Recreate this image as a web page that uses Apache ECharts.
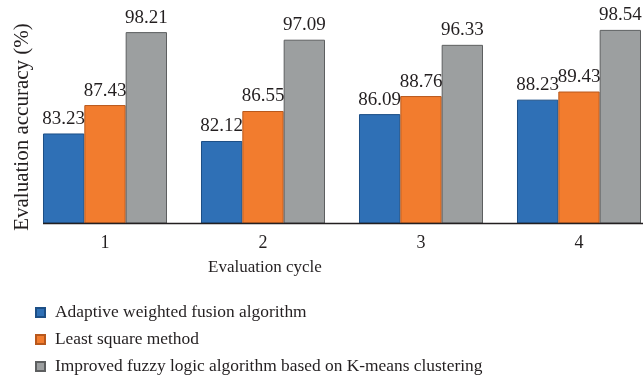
<!DOCTYPE html>
<html>
<head>
<meta charset="utf-8">
<script src="https://cdn.jsdelivr.net/npm/echarts@6/dist/echarts.min.js"></script>
<style>
  html, body { margin: 0; padding: 0; background: #fff; overflow: hidden; }
  /* plot runs a little past the right edge in the source figure */
  #chart { width: 658px; height: 383px; }
</style>
</head>
<body>
<div id="chart"></div>
<script>
// data
var cycles = ['1', '2', '3', '4'];
var seriesNames = [
    'Adaptive weighted fusion algorithm',
    'Least square method',
    'Improved fuzzy logic algorithm based on K-means clustering'
];
var adaptive = [83.23, 82.12, 86.09, 88.23];
var leastSquare = [87.43, 86.55, 88.76, 89.43];
var improvedFuzzy = [98.21, 97.09, 96.33, 98.54];

var fills = ['#2f70b6', '#f27c2e', '#9c9fa0'];
var borders = ['#1d4f86', '#b8581c', '#5d5f60'];
var serif = '"Liberation Serif", "DejaVu Serif", serif';
var ink = '#231f20';

function bar(name, data, i) {
    return {
        name: name,
        type: 'bar',
        data: data,
        barGap: 0,
        barCategoryGap: '21.5%',
        itemStyle: { color: fills[i], borderColor: borders[i], borderWidth: 1 },
        label: {
            show: true,
            position: 'top',
            distance: 5,
            color: ink,
            fontFamily: serif,
            fontSize: 19
        }
    };
}

var chart = echarts.init(document.getElementById('chart'));
chart.setOption({
    animation: false,
    grid: { left: 26, top: 20, right: 0, height: 203, containLabel: false },
    legend: {
        orient: 'vertical',
        left: 35,
        top: 304,
        padding: 0,
        icon: 'rect',
        itemWidth: 9,
        itemHeight: 9,
        itemGap: 10,
        textStyle: { color: ink, fontFamily: serif, fontSize: 17.4, padding: [0, 0, 0, 5] },
        data: seriesNames
    },
    xAxis: {
        type: 'category',
        data: cycles,
        axisLine: { show: false },
        axisTick: { show: false },
        axisLabel: { color: ink, fontFamily: serif, fontSize: 18, margin: 11 }
    },
    yAxis: {
        type: 'value',
        min: 70,
        max: 100,
        axisLine: { show: false },
        axisTick: { show: false },
        axisLabel: { show: false },
        splitLine: { show: false }
    },
    graphic: [
        {
            type: 'line',
            shape: { x1: 43, y1: 223.5, x2: 658, y2: 223.5 },
            style: { stroke: '#231f20', lineWidth: 1.5 },
            z: 10
        },
        {
            type: 'text',
            x: 22,
            y: 127,
            rotation: Math.PI / 2,
            style: {
                text: 'Evaluation accuracy (%)',
                fill: ink,
                font: '21px ' + serif,
                align: 'center',
                verticalAlign: 'middle'
            }
        },
        {
            type: 'text',
            x: 265,
            y: 268,
            style: {
                text: 'Evaluation cycle',
                fill: ink,
                font: '17px ' + serif,
                align: 'center',
                verticalAlign: 'middle'
            }
        }
    ],
    series: [
        bar(seriesNames[0], adaptive, 0),
        bar(seriesNames[1], leastSquare, 1),
        bar(seriesNames[2], improvedFuzzy, 2)
    ]
});
</script>
</body>
</html>
